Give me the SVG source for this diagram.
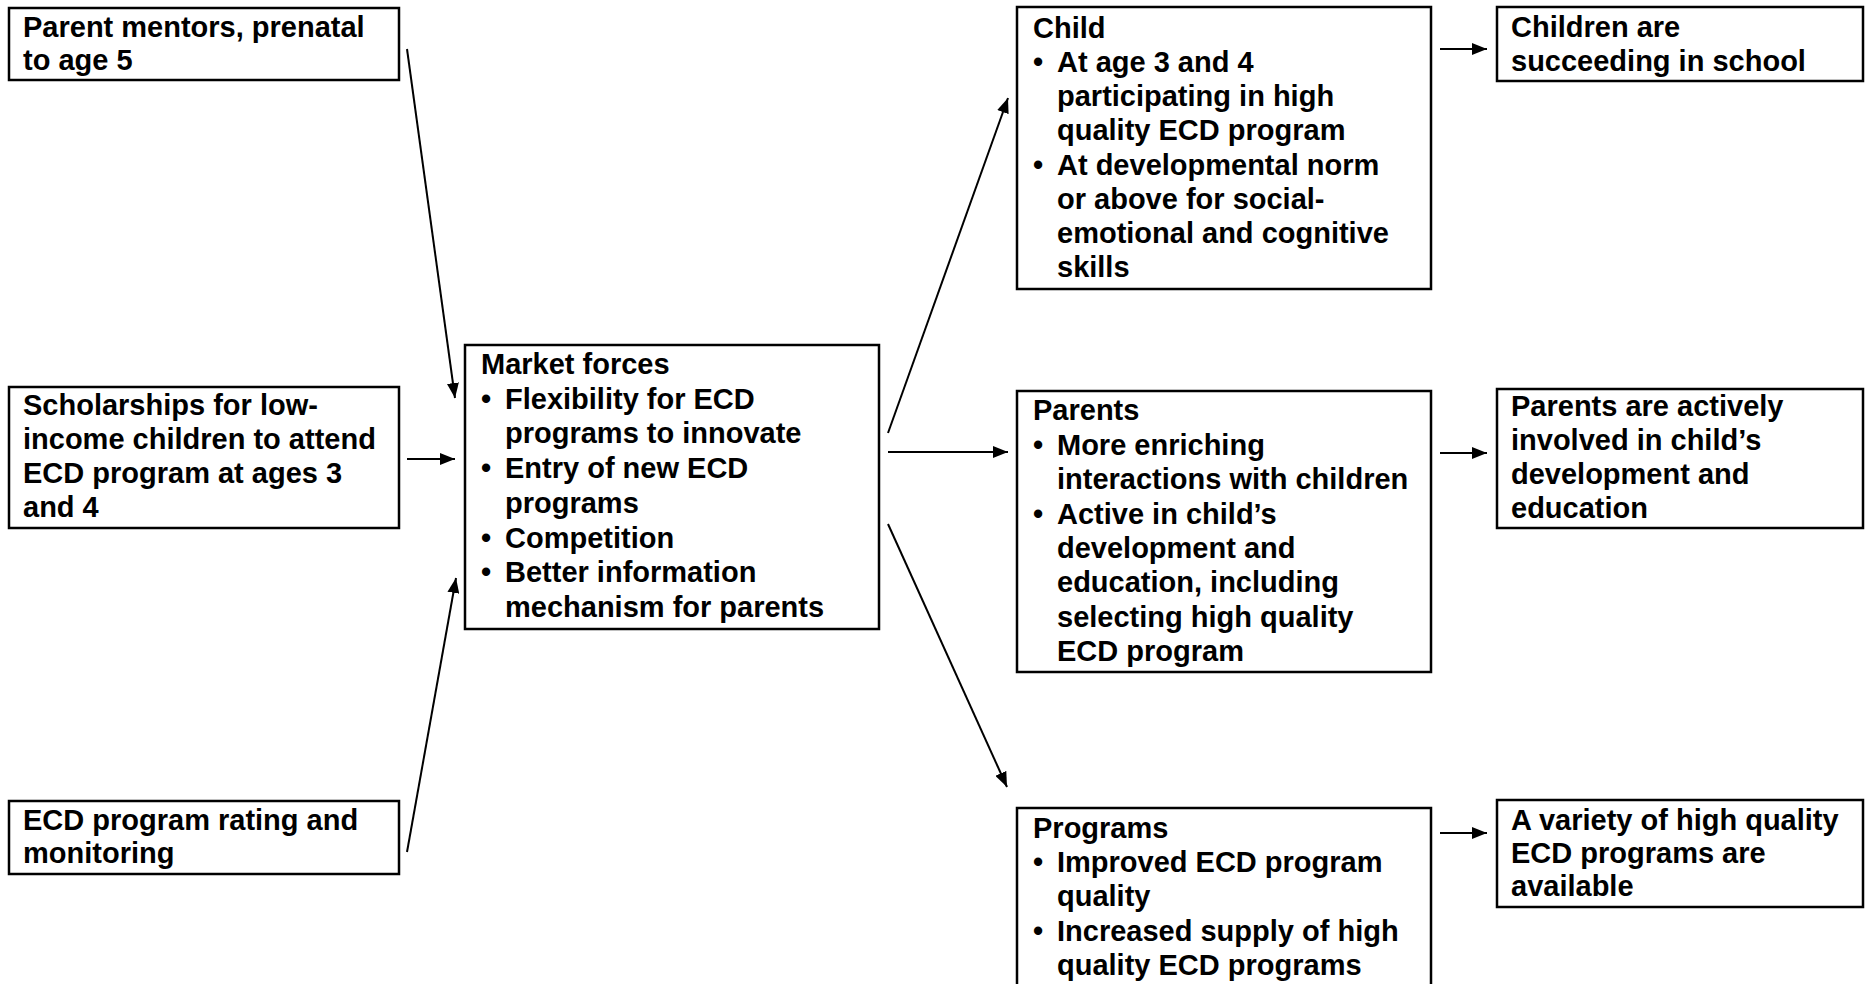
<svg xmlns="http://www.w3.org/2000/svg" width="1872" height="984" viewBox="0 0 1872 984">
<style>
.box{fill:#fff;stroke:#000;stroke-width:2.5}
.t{font-family:"Liberation Sans",Arial,sans-serif;font-weight:bold;font-size:29px;fill:#000}
.c{stroke:#000;stroke-width:2;fill:none;marker-end:url(#ah)}
</style>
<defs>
<marker id="ah" markerUnits="userSpaceOnUse" markerWidth="16" markerHeight="12" refX="15" refY="6" orient="auto">
<path d="M0,0 L15,6 L0,12 z" fill="#000"/>
</marker>
</defs>
<rect width="1872" height="984" fill="#fff"/>
<g id="n1">
<rect class="box" x="9" y="8" width="390" height="72"/>
<text class="t" x="23" y="37">Parent mentors, prenatal</text>
<text class="t" x="23" y="70">to age 5</text>
</g>
<g id="n2">
<rect class="box" x="9" y="387" width="390" height="141"/>
<text class="t" x="23" y="415">Scholarships for low-</text>
<text class="t" x="23" y="449">income children to attend</text>
<text class="t" x="23" y="483">ECD program at ages 3</text>
<text class="t" x="23" y="517">and 4</text>
</g>
<g id="n3">
<rect class="box" x="9" y="801" width="390" height="73"/>
<text class="t" x="23" y="830">ECD program rating and</text>
<text class="t" x="23" y="863">monitoring</text>
</g>
<g id="market">
<rect class="box" x="465" y="345" width="414" height="284"/>
<text class="t" x="481" y="374">Market forces</text>
<text class="t" x="481" y="409">•</text>
<text class="t" x="505" y="409">Flexibility for ECD</text>
<text class="t" x="505" y="443">programs to innovate</text>
<text class="t" x="481" y="478">•</text>
<text class="t" x="505" y="478">Entry of new ECD</text>
<text class="t" x="505" y="513">programs</text>
<text class="t" x="481" y="548">•</text>
<text class="t" x="505" y="548">Competition</text>
<text class="t" x="481" y="582">•</text>
<text class="t" x="505" y="582">Better information</text>
<text class="t" x="505" y="617">mechanism for parents</text>
</g>
<g id="child">
<rect class="box" x="1017" y="7" width="414" height="282"/>
<text class="t" x="1033" y="38">Child</text>
<text class="t" x="1033" y="72">•</text>
<text class="t" x="1057" y="72">At age 3 and 4</text>
<text class="t" x="1057" y="106">participating in high</text>
<text class="t" x="1057" y="140">quality ECD program</text>
<text class="t" x="1033" y="175">•</text>
<text class="t" x="1057" y="175">At developmental norm</text>
<text class="t" x="1057" y="209">or above for social-</text>
<text class="t" x="1057" y="243">emotional and cognitive</text>
<text class="t" x="1057" y="277">skills</text>
</g>
<g id="parents">
<rect class="box" x="1017" y="391" width="414" height="281"/>
<text class="t" x="1033" y="420">Parents</text>
<text class="t" x="1033" y="455">•</text>
<text class="t" x="1057" y="455">More enriching</text>
<text class="t" x="1057" y="489">interactions with children</text>
<text class="t" x="1033" y="524">•</text>
<text class="t" x="1057" y="524">Active in child’s</text>
<text class="t" x="1057" y="558">development and</text>
<text class="t" x="1057" y="592">education, including</text>
<text class="t" x="1057" y="627">selecting high quality</text>
<text class="t" x="1057" y="661">ECD program</text>
</g>
<g id="programs">
<rect class="box" x="1017" y="808" width="414" height="200"/>
<text class="t" x="1033" y="838">Programs</text>
<text class="t" x="1033" y="872">•</text>
<text class="t" x="1057" y="872">Improved ECD program</text>
<text class="t" x="1057" y="906">quality</text>
<text class="t" x="1033" y="941">•</text>
<text class="t" x="1057" y="941">Increased supply of high</text>
<text class="t" x="1057" y="975">quality ECD programs</text>
</g>
<g id="o1">
<rect class="box" x="1497" y="7" width="366" height="74"/>
<text class="t" x="1511" y="37">Children are</text>
<text class="t" x="1511" y="71">succeeding in school</text>
</g>
<g id="o2">
<rect class="box" x="1497" y="389" width="366" height="139"/>
<text class="t" x="1511" y="416">Parents are actively</text>
<text class="t" x="1511" y="450">involved in child’s</text>
<text class="t" x="1511" y="484">development and</text>
<text class="t" x="1511" y="518">education</text>
</g>
<g id="o3">
<rect class="box" x="1497" y="800" width="366" height="107"/>
<text class="t" x="1511" y="830">A variety of high quality</text>
<text class="t" x="1511" y="863">ECD programs are</text>
<text class="t" x="1511" y="896">available</text>
</g>
<g id="connectors">
<line class="c" x1="407" y1="49" x2="455" y2="398"/>
<line class="c" x1="407" y1="459" x2="455" y2="459"/>
<line class="c" x1="407" y1="852" x2="456" y2="578"/>
<line class="c" x1="888" y1="433" x2="1008" y2="98"/>
<line class="c" x1="888" y1="452" x2="1008" y2="452"/>
<line class="c" x1="888" y1="524" x2="1007" y2="787"/>
<line class="c" x1="1440" y1="49" x2="1487" y2="49"/>
<line class="c" x1="1440" y1="453" x2="1487" y2="453"/>
<line class="c" x1="1440" y1="833" x2="1487" y2="833"/>
</g>
</svg>
